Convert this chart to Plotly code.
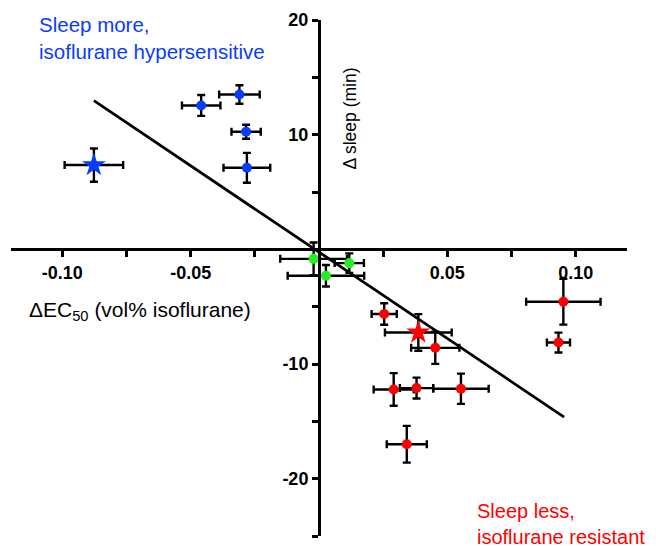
import plotly.graph_objects as go

# ---- data ----
blue_x = [-0.0459, -0.0310, -0.0284, -0.0281]
blue_y = [12.55, 13.50, 10.25, 7.11]
blue_xerr = [0.0075, 0.0079, 0.0057, 0.0091]
blue_yerr = [0.91, 0.81, 0.61, 1.30]

blue_star_x = [-0.0877]
blue_star_y = [7.35]
blue_star_xerr = [0.0114]
blue_star_yerr = [1.45]

green_x = [-0.0021, 0.0118, 0.0027]
green_y = [-0.83, -1.20, -2.30]
green_xerr = [0.0130, 0.0057, 0.0149]
green_yerr = [1.42, 0.85, 0.94]

red_x = [0.0254, 0.0453, 0.0291, 0.0380, 0.0553, 0.0342, 0.0952, 0.0933]
red_y = [-5.64, -8.59, -12.22, -12.10, -12.16, -17.0, -4.57, -8.13]
red_xerr = [0.0049, 0.0094, 0.0078, 0.0065, 0.0108, 0.0078, 0.0145, 0.0045]
red_yerr = [0.94, 1.40, 1.42, 0.91, 1.32, 1.60, 2.00, 0.87]

red_star_x = [0.0387]
red_star_y = [-7.25]
red_star_xerr = [0.0130]
red_star_yerr = [1.60]

fit_x = [-0.0877, 0.0955]
fit_y = [12.97, -14.63]

x_tickvals = [-0.10, -0.05, 0.05, 0.10]
x_ticktext = ["-0.10", "-0.05", "0.05", "0.10"]
x_minor_vals = [-0.075, -0.025, 0.025, 0.075]
y_tickvals = [20, 10, -10, -20]
y_ticktext = ["20", "10", "-10", "-20"]
y_minor_vals = [15, 5, -5, -15, -25]

X_RANGE = [-0.12, 0.12]
Y_RANGE = [-25, 20]

BLUE = "#0a3cff"
RED = "#ff0000"
GREEN = "#22ee22"
FONT = "Arial, Liberation Sans, sans-serif"

fig = go.Figure()

fig.add_trace(go.Scatter(x=fit_x, y=fit_y, mode="lines",
                         line=dict(color="black", width=2.8), hoverinfo="skip"))


def add_points(x, y, xe, ye, color, symbol, size):
    fig.add_trace(go.Scatter(
        x=x, y=y, mode="markers",
        marker=dict(color=color, symbol=symbol, size=size, line=dict(width=0)),
        error_x=dict(type="data", array=xe, visible=True, color="black",
                     thickness=2.4, width=4),
        error_y=dict(type="data", array=ye, visible=True, color="black",
                     thickness=2.4, width=4),
    ))


add_points(blue_x, blue_y, blue_xerr, blue_yerr, BLUE, "circle", 10)
add_points(blue_star_x, blue_star_y, blue_star_xerr, blue_star_yerr, BLUE, "star", 18)
add_points(green_x, green_y, green_xerr, green_yerr, GREEN, "circle", 10)
add_points(red_x, red_y, red_xerr, red_yerr, RED, "circle", 10)
add_points(red_star_x, red_star_y, red_star_xerr, red_star_yerr, RED, "star", 18)

x_cross = (0 - Y_RANGE[0]) / (Y_RANGE[1] - Y_RANGE[0])
y_cross = (0 - X_RANGE[0]) / (X_RANGE[1] - X_RANGE[0])

tick_font = dict(size=18, family=FONT, weight="bold", color="black")

fig.update_layout(
    width=656, height=546,
    margin=dict(l=11, r=29, t=18, b=10),
    plot_bgcolor="white", paper_bgcolor="white",
    showlegend=False,
    font=dict(family=FONT, color="black"),
    xaxis=dict(range=X_RANGE, anchor="free", position=x_cross,
               showline=True, linecolor="black", linewidth=3,
               showgrid=False, zeroline=False,
               ticks="outside", ticklen=6, tickwidth=2.5, tickcolor="black",
               tickvals=x_tickvals, ticktext=x_ticktext, tickfont=tick_font,
               minor=dict(tickvals=x_minor_vals, ticks="outside", ticklen=6,
                          tickwidth=2.5, tickcolor="black", showgrid=False)),
    yaxis=dict(range=Y_RANGE, anchor="free", position=y_cross,
               showline=True, linecolor="black", linewidth=3,
               showgrid=False, zeroline=False,
               ticks="outside", ticklen=6, tickwidth=2.5, tickcolor="black",
               tickvals=y_tickvals, ticktext=y_ticktext, tickfont=tick_font,
               minor=dict(tickvals=y_minor_vals, ticks="outside", ticklen=6,
                          tickwidth=2.5, tickcolor="black", showgrid=False)),
    annotations=[
        dict(text="Sleep more,<br>isoflurane hypersensitive", xref="paper", yref="paper",
             x=(37 - 11) / 616, y=(536 - 9) / 518, xanchor="left", yanchor="top",
             align="left", showarrow=False, font=dict(size=20.5, color=BLUE, family=FONT)),
        dict(text="Sleep less,<br>isoflurane resistant", xref="paper", yref="paper",
             x=(475 - 11) / 616, y=(536 - 498) / 518, xanchor="left", yanchor="top",
             align="left", showarrow=False, font=dict(size=20, color=RED, family=FONT)),
        dict(text="ΔEC<sub>50</sub> (vol% isoflurane)", xref="paper", yref="paper",
             x=(27 - 11) / 616, y=(536 - 310) / 518, xanchor="left", yanchor="middle",
             showarrow=False, font=dict(size=21, color="black", family=FONT)),
        dict(text="Δ sleep (min)", xref="paper", yref="paper", textangle=-90,
             x=(350 - 11) / 616, y=(536 - 117) / 518, xanchor="center", yanchor="middle",
             showarrow=False, font=dict(size=17.5, color="black", family=FONT)),
    ],
)

fig.write_html("out.html", config={"displayModeBar": False},
               post_script="document.body.style.margin='0';")
